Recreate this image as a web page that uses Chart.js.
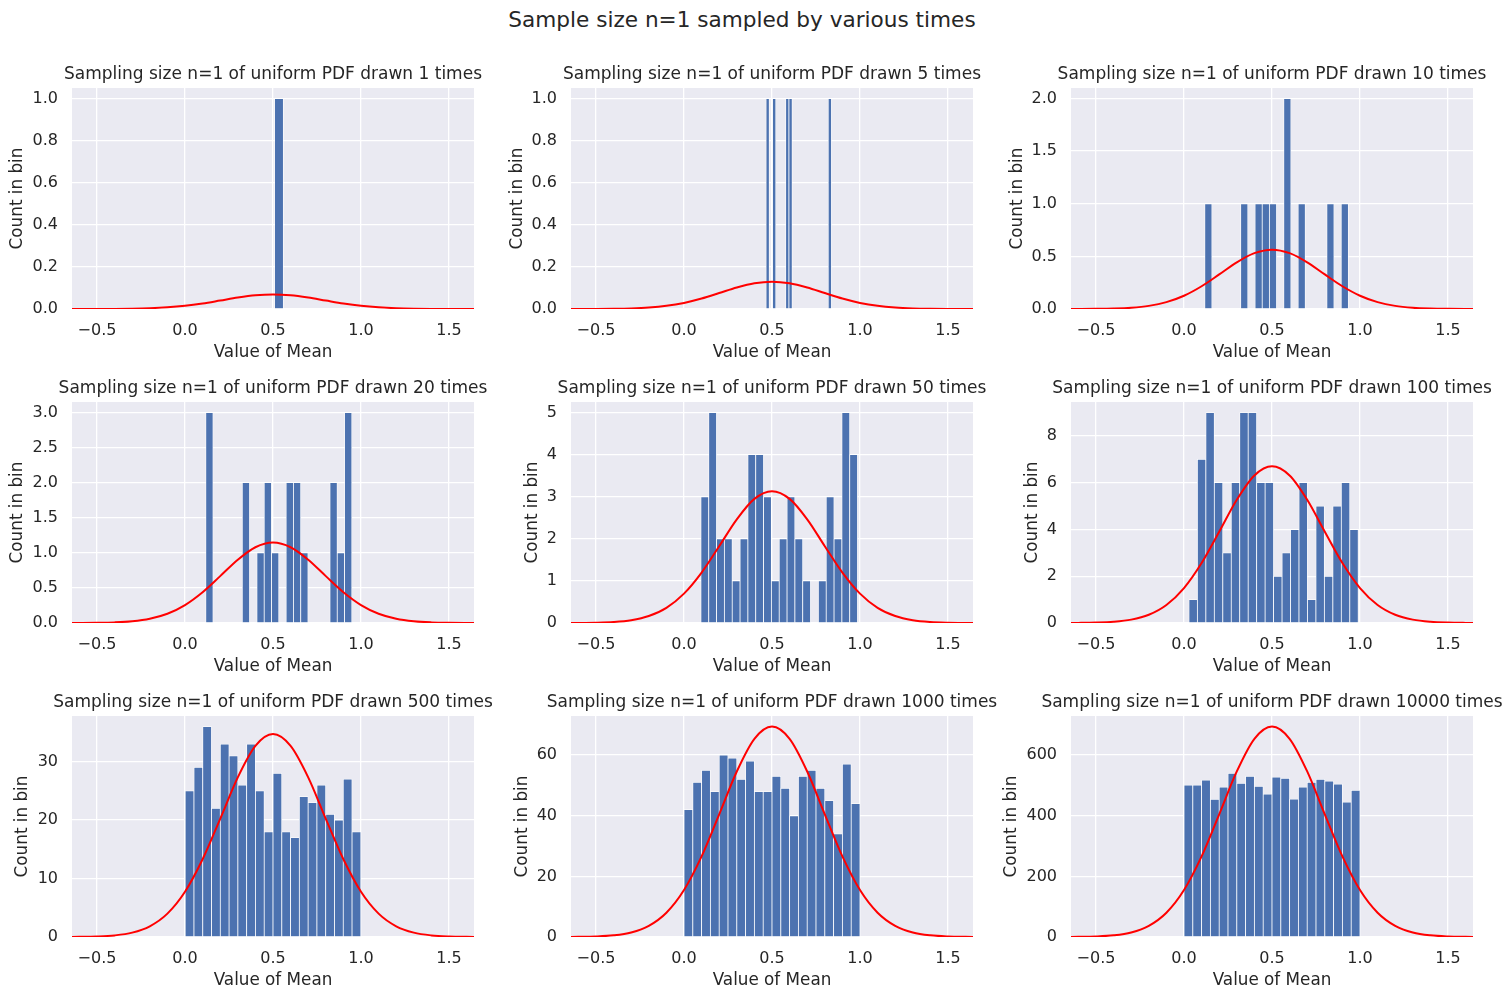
<!DOCTYPE html>
<html>
<head>
<meta charset="utf-8">
<script src="https://cdn.jsdelivr.net/npm/chart.js@4.4.0/dist/chart.umd.min.js"></script>
<style>
  body { margin: 0; background: #ffffff; width: 1512px; height: 999px; position: relative; overflow: hidden; font-family: "DejaVu Sans", sans-serif; }
  #suptitle { position: absolute; left: 0; top: 7px; width: 1484px; text-align: center; font-size: 21.6px; line-height: 26px; color: #262626; }
  canvas { position: absolute; }
</style>
</head>
<body>
<div id="suptitle">Sample size n=1 sampled by various times</div>
<script>
// ---- data ----
var drawnTimes = [1, 5, 10, 20, 50, 100, 500, 1000, 10000];

// histogram range (min / max of the samples), 20 bins each
var binLo = [0.009, 0.466, 0.118, 0.118, 0.096, 0.028, 0.001, 0.0, 0.0];
var binHi = [1.009, 0.838, 0.934, 0.948, 0.986, 0.990, 0.999, 1.0, 1.0];

var counts1 = [0,0,0,0,0,0,0,0,0,0,1,0,0,0,0,0,0,0,0,0];
var counts5 = [1,0,1,0,0,0,1,1,0,0,0,0,0,0,0,0,0,0,0,1];
var counts10 = [1,0,0,0,0,1,0,1,1,1,0,2,0,1,0,0,0,1,0,1];
var counts20 = [3,0,0,0,0,2,0,1,2,1,0,2,2,1,0,0,0,2,1,3];
var counts50 = [3,5,2,2,1,2,4,4,3,1,2,3,2,1,0,1,3,2,5,4];
var counts100 = [1,7,9,6,3,6,9,9,6,6,2,3,4,6,1,5,2,5,6,4];
var counts500 = [25,29,36,22,33,31,26,33,25,18,28,18,17,24,23,26,21,20,27,18];
var counts1000 = [42,51,55,48,60,59,52,58,48,48,53,49,40,53,55,49,45,34,57,44];
var counts10000 = [501,501,517,454,494,540,507,530,497,471,527,523,455,494,510,520,514,504,445,484];

// red normal curve, read at these x positions
var curveX = [-0.7,-0.6,-0.5,-0.4,-0.3,-0.2,-0.1,0.0,0.1,0.2,0.3,0.4,0.5,0.6,0.7,0.8,0.9,1.0,1.1,1.2,1.3,1.4,1.5,1.6,1.7];
var curve1 = [0,0,0.0002,0.0005,0.0015,0.0037,0.008,0.0154,0.0264,0.0402,0.0543,0.065,0.069,0.065,0.0543,0.0402,0.0264,0.0154,0.008,0.0037,0.0015,0.0005,0.0002,0,0];
var curve5 = [0,0.0001,0.0003,0.001,0.0028,0.0069,0.015,0.029,0.0498,0.0758,0.1023,0.1224,0.13,0.1224,0.1023,0.0758,0.0498,0.029,0.015,0.0069,0.0028,0.001,0.0003,0.0001,0];
var curve10 = [0.0001,0.0004,0.0014,0.0044,0.0121,0.0298,0.065,0.1258,0.216,0.3286,0.4437,0.531,0.564,0.531,0.4437,0.3286,0.216,0.1258,0.065,0.0298,0.0121,0.0044,0.0014,0.0004,0.0001];
var curve20 = [0.0002,0.0008,0.0028,0.0089,0.0247,0.0607,0.132,0.256,0.439,0.668,0.902,1.08,1.147,1.08,0.902,0.668,0.439,0.256,0.132,0.0607,0.0247,0.0089,0.0028,0.0008,0.0002];
var curve50 = [0.0006,0.0022,0.0078,0.0243,0.0673,0.1656,0.361,0.698,1.198,1.824,2.462,2.948,3.13,2.948,2.462,1.824,1.198,0.698,0.361,0.1656,0.0673,0.0243,0.0078,0.0022,0.0006];
var curve100 = [0.0012,0.0047,0.0166,0.052,0.144,0.354,0.773,1.495,2.565,3.904,5.27,6.31,6.7,6.31,5.27,3.904,2.565,1.495,0.773,0.354,0.144,0.052,0.0166,0.0047,0.0012];
var curve500 = [0.006,0.024,0.086,0.269,0.746,1.836,4.0,7.74,13.29,20.22,27.3,32.68,34.7,32.68,27.3,20.22,13.29,7.74,4.0,1.836,0.746,0.269,0.086,0.024,0.006];
var curve1000 = [0.01,0.05,0.17,0.54,1.49,3.67,8.0,15.48,26.57,40.44,54.59,65.36,69.4,65.36,54.59,40.44,26.57,15.48,8.0,3.67,1.49,0.54,0.17,0.05,0.01];
var curve10000 = [0.1,0.5,1.7,5.4,14.9,36.7,80.0,154.8,265.7,404.4,545.9,653.6,694,653.6,545.9,404.4,265.7,154.8,80.0,36.7,14.9,5.4,1.7,0.5,0.1];

// axis ranges and tick labels
var xMin = -0.642, xMax = 1.642;
var xTicks = [-0.5, 0.0, 0.5, 1.0, 1.5];
var yMax = [1.05, 1.05, 2.1, 3.15, 5.25, 9.45, 37.8, 72.9, 728.7];
var yTicks = [
  [0, 0.2, 0.4, 0.6, 0.8, 1.0],
  [0, 0.2, 0.4, 0.6, 0.8, 1.0],
  [0, 0.5, 1.0, 1.5, 2.0],
  [0, 0.5, 1.0, 1.5, 2.0, 2.5, 3.0],
  [0, 1, 2, 3, 4, 5],
  [0, 2, 4, 6, 8],
  [0, 10, 20, 30],
  [0, 20, 40, 60],
  [0, 200, 400, 600]
];
var yDecimals = [1, 1, 1, 1, 0, 0, 0, 0, 0];

var allCounts = [counts1, counts5, counts10, counts20, counts50, counts100, counts500, counts1000, counts10000];
var allCurves = [curve1, curve5, curve10, curve20, curve50, curve100, curve500, curve1000, curve10000];

// ---- layout ----
var colLeft = [72, 571, 1071];
var rowTop = [88, 402, 716];
var plotW = 402, plotH = 221;
var yAxisW = 72, titleH = 25, xAxisH = 54;
var yTitlePad = [7.6, 8.3, 8.3, 7.6, 23.3, 23.3, 12.6, 13.3, 2.7];

var textColor = '#262626';
var fontFamily = '"DejaVu Sans"';

Chart.defaults.font.family = fontFamily;
Chart.defaults.color = textColor;

var areaBackground = {
  id: 'areaBackground',
  beforeDraw: function (chart) {
    var a = chart.chartArea;
    var ctx = chart.ctx;
    ctx.save();
    ctx.fillStyle = '#eaeaf2';
    ctx.fillRect(a.left, a.top, a.right - a.left, a.bottom - a.top);
    ctx.restore();
  }
};

function fmtX(v) {
  var s = Math.abs(v).toFixed(1);
  return v < 0 ? '\u2212' + s : s;
}

for (var k = 0; k < 9; k++) {
  var col = k % 3, row = Math.floor(k / 3);
  var canvas = document.createElement('canvas');
  canvas.width = yAxisW + plotW + yAxisW;
  canvas.height = titleH + plotH + xAxisH;
  canvas.style.left = (colLeft[col] - yAxisW) + 'px';
  canvas.style.top = (rowTop[row] - titleH) + 'px';
  document.body.appendChild(canvas);

  var counts = allCounts[k];
  var w = (binHi[k] - binLo[k]) / counts.length;
  var bars = [];
  for (var i = 0; i < counts.length; i++) {
    bars.push({ x: binLo[k] + (i + 0.5) * w, y: counts[i] });
  }
  var curve = [];
  for (var j = 0; j < curveX.length; j++) {
    curve.push({ x: curveX[j], y: allCurves[k][j] });
  }

  (function (k) {
    new Chart(canvas, {
      type: 'bar',
      data: {
        datasets: [
          {
            type: 'line',
            data: curve,
            borderColor: '#ff0000',
            borderWidth: 2,
            pointRadius: 0,
            fill: false,
            cubicInterpolationMode: 'monotone',
            order: 0
          },
          {
            type: 'bar',
            data: bars,
            backgroundColor: '#4c72b0',
            borderColor: '#ffffff',
            borderWidth: 0.75,
            categoryPercentage: 1.0,
            barPercentage: 1.0,
            order: 1
          }
        ]
      },
      options: {
        responsive: false,
        animation: false,
        devicePixelRatio: 1,
        layout: { padding: 0 },
        plugins: {
          legend: { display: false },
          tooltip: { enabled: false },
          title: {
            display: true,
            text: 'Sampling size n=1 of uniform PDF drawn ' + drawnTimes[k] + ' times',
            color: textColor,
            font: { size: 17, weight: 'normal' },
            padding: { top: 1, bottom: 3.6 }
          }
        },
        scales: {
          x: {
            type: 'linear',
            min: xMin,
            max: xMax,
            offset: false,
            afterBuildTicks: function (s) { s.ticks = xTicks.map(function (v) { return { value: v }; }); },
            afterFit: function (s) { s.height = xAxisH; },
            ticks: {
              autoSkip: false, maxRotation: 0, padding: 12.5,
              font: { size: 16 }, color: textColor,
              callback: function (v) { return fmtX(v); }
            },
            grid: { color: '#ffffff', lineWidth: 1.3, drawTicks: false, offset: false },
            border: { display: false },
            title: { display: true, text: 'Value of Mean', color: textColor, font: { size: 16.8 }, padding: { top: 0, bottom: 0 } }
          },
          y: {
            position: 'left',
            min: 0,
            max: yMax[k],
            afterBuildTicks: function (s) { s.ticks = yTicks[k].map(function (v) { return { value: v }; }); },
            afterFit: function (s) { s.width = yAxisW; },
            ticks: {
              padding: 14,
              font: { size: 16 }, color: textColor,
              callback: function (v) { return v.toFixed(yDecimals[k]); }
            },
            grid: { color: '#ffffff', lineWidth: 1.3, drawTicks: false },
            border: { display: false },
            title: { display: true, text: 'Count in bin', color: textColor, font: { size: 16.8 }, padding: { top: yTitlePad[k], bottom: 0 } }
          },
          y2: {
            position: 'right',
            display: true,
            afterFit: function (s) { s.width = yAxisW; },
            ticks: { display: false },
            grid: { display: false },
            border: { display: false }
          }
        }
      },
      plugins: [areaBackground]
    });
  })(k);
}
</script>
</body>
</html>
